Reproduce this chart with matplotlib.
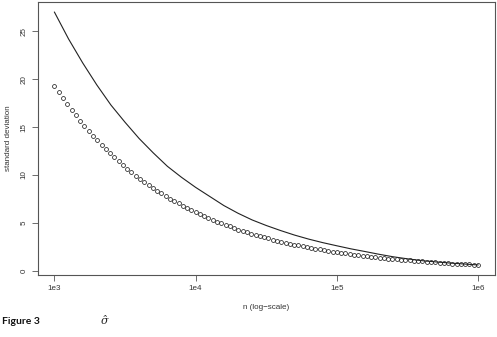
import numpy as np
import matplotlib
matplotlib.use("Agg")
import matplotlib.pyplot as plt

# data
point_n = np.logspace(3, 6, 100)
point_sd = [19.30, 18.64, 18.00, 17.38, 16.78, 16.21, 15.65, 15.11, 14.59, 14.09,
            13.61, 13.15, 12.70, 12.26, 11.84, 11.43, 11.04, 10.66, 10.29, 9.94,
            9.60, 9.28, 8.96, 8.65, 8.35, 8.07, 7.79, 7.52, 7.27, 7.02,
            6.78, 6.54, 6.32, 6.10, 5.89, 5.69, 5.50, 5.31, 5.13, 4.95,
            4.78, 4.62, 4.46, 4.30, 4.16, 4.01, 3.88, 3.74, 3.61, 3.49,
            3.37, 3.25, 3.14, 3.03, 2.93, 2.83, 2.73, 2.64, 2.55, 2.46,
            2.38, 2.29, 2.22, 2.14, 2.07, 1.99, 1.93, 1.86, 1.80, 1.74,
            1.68, 1.62, 1.56, 1.51, 1.46, 1.41, 1.36, 1.31, 1.27, 1.22,
            1.18, 1.14, 1.10, 1.07, 1.03, 0.99, 0.96, 0.93, 0.89, 0.86,
            0.83, 0.81, 0.78, 0.75, 0.73, 0.70, 0.68, 0.65, 0.63, 0.61]

line_log10_n = [3.0, 3.1, 3.2, 3.3, 3.4, 3.5, 3.6, 3.7, 3.8, 3.9,
                4.0, 4.1, 4.2, 4.3, 4.4, 4.5, 4.6, 4.7, 4.8, 4.9,
                5.0, 5.1, 5.2, 5.3, 5.4, 5.5, 5.6, 5.7, 5.8, 5.9, 6.0]
line_sd = [27.0, 24.2, 21.7, 19.4, 17.3, 15.5, 13.8, 12.3, 10.9, 9.75,
           8.7, 7.75, 6.8, 6.0, 5.3, 4.72, 4.2, 3.72, 3.3, 2.93,
           2.6, 2.28, 2.0, 1.71, 1.45, 1.24, 1.05, 0.92, 0.80, 0.70, 0.60]

x_ticks = [1e3, 1e4, 1e5, 1e6]
x_tick_labels = ["1e3", "1e4", "1e5", "1e6"]
y_ticks = [0, 5, 10, 15, 20, 25]

plt.rcParams['font.family'] = ['Liberation Sans', 'DejaVu Sans']
W, H = 497, 337
fig = plt.figure(figsize=(W / 100, H / 100), dpi=100)
ax = fig.add_axes([37.5 / W, 1 - 275 / H, (495 - 37.5) / W, (275 - 2) / H])

gray = '#333333'
ax.plot([10 ** v for v in line_log10_n], line_sd, color='#222222', lw=0.8)
ax.plot(point_n, point_sd, linestyle='none', marker='o', markersize=2.8,
        markerfacecolor='none', markeredgecolor='#222222', markeredgewidth=0.55)

ax.set_xscale('log')
ax.set_xlim(10**2.88, 10**6.12)
ax.set_ylim(-0.45, 28.06)
ax.set_xticks(x_ticks)
ax.set_xticklabels(x_tick_labels)
ax.xaxis.set_minor_locator(matplotlib.ticker.NullLocator())
ax.set_yticks(y_ticks)
ax.set_yticklabels([str(v) for v in y_ticks], rotation=90, va='center')

for s in ax.spines.values():
    s.set_color('#555555')
    s.set_linewidth(0.8)
ax.tick_params(axis='both', direction='out', length=4, width=0.6,
               color='#555555', labelsize=5.8, labelcolor=gray, pad=3)

ax.set_xlabel('n (log\u2212scale)', fontsize=5.8, color=gray, labelpad=9)
ax.set_ylabel('standard deviation', fontsize=5.8, color=gray, labelpad=6)

fig.text(2 / W, 1 - 322 / H, 'Figure 3', fontsize=7.5, fontweight='bold',
         family=['Lato', 'DejaVu Sans'], va='center', ha='left', color='#111111')
fig.text(101 / W, 1 - 321 / H, '\u03c3\u0302', fontsize=8, style='italic',
         family=['DejaVu Serif'], va='center', ha='left', color='#222222')

fig.savefig('out.png', dpi=100)
